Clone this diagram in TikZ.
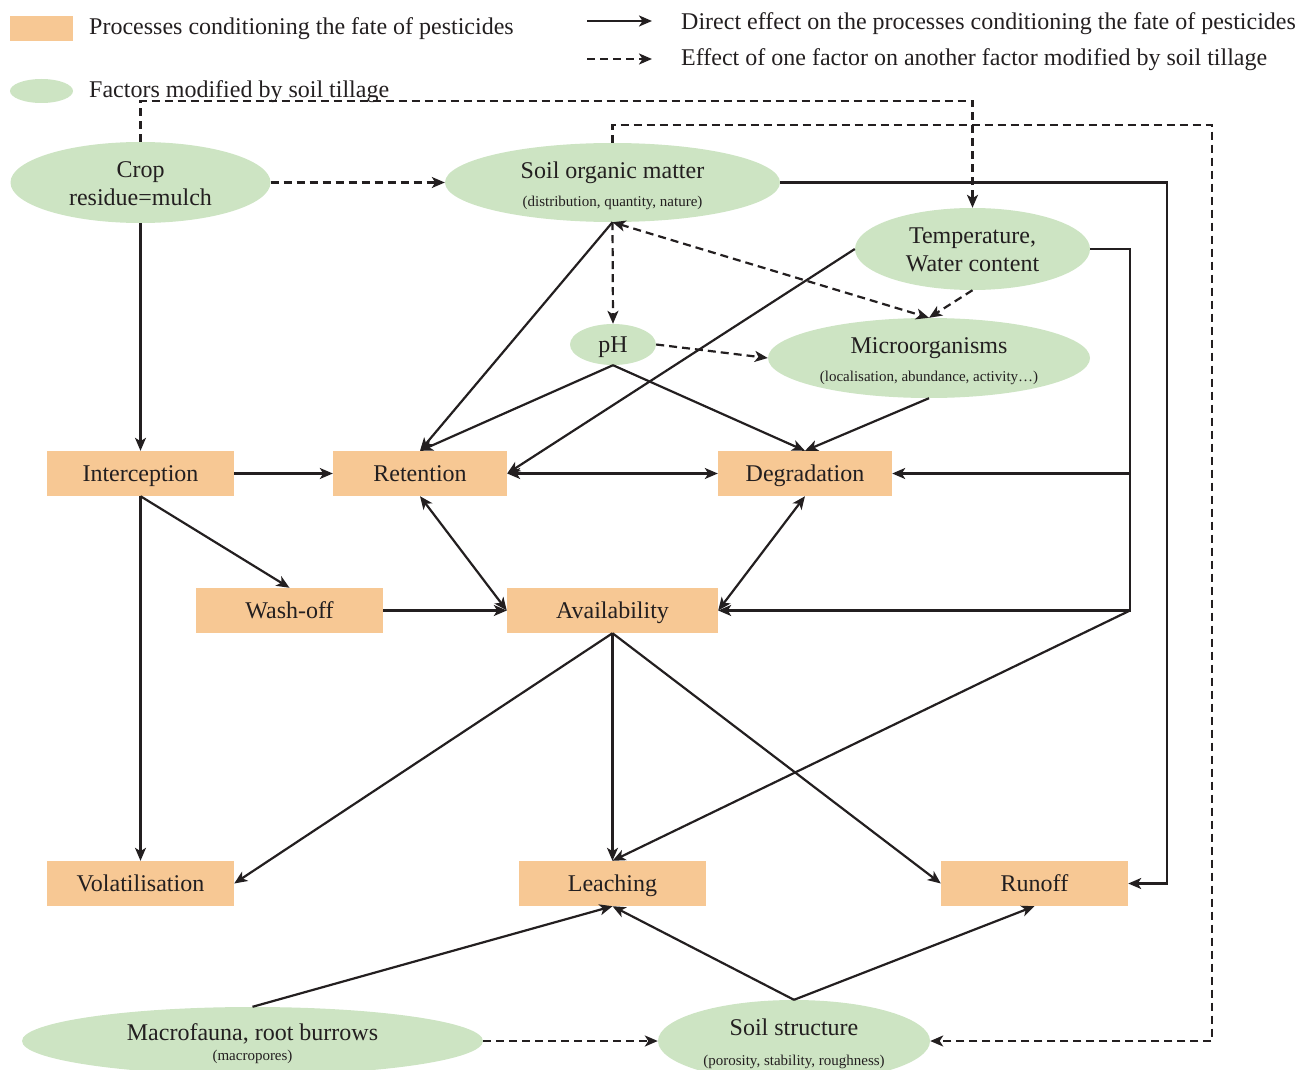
\documentclass[tikz,border=0pt]{standalone}
\usepackage{fontspec}
\setmainfont{Liberation Serif}
\usetikzlibrary{shapes.geometric,arrows.meta}
\definecolor{procfill}{HTML}{F7C894}
\definecolor{factfill}{HTML}{CDE4C3}
\definecolor{linec}{HTML}{231F20}
\begin{document}
\begin{tikzpicture}[x=1pt,y=-1pt,
  proc/.style={rectangle,fill=procfill,minimum width=187pt,minimum height=45pt,inner sep=0pt,
    font=\fontsize{24}{26}\selectfont,text=linec,text height=16pt,text depth=0.5pt},
  fact/.style={ellipse,fill=factfill,inner sep=0pt},
  big/.style={inner sep=0pt,font=\fontsize{24}{26}\selectfont,text=linec,text height=16pt,text depth=0.5pt},
  small/.style={inner sep=0pt,font=\fontsize{15}{17}\selectfont,text=linec,text height=10pt,text depth=0.3pt},
  conn/.style={draw=linec,line width=2.2pt,-{Stealth[length=13pt,width=11pt,inset=3.5pt]}},
  bconn/.style={conn,{Stealth[length=13pt,width=11pt,inset=3.5pt]}-{Stealth[length=13pt,width=11pt,inset=3.5pt]}},
  dconn/.style={conn,dash pattern=on 8pt off 5pt},
  dbconn/.style={bconn,dash pattern=on 8pt off 5pt},
]
\useasboundingbox (0,0) rectangle (1298,1070);
\clip (0,0) rectangle (1298,1070);

% legend
\node[rectangle,fill=procfill,minimum width=63pt,minimum height=25pt,inner sep=0pt] (legp) at (41.5,28.5) {};
\node[big,anchor=west] (legpt) at (89,27) {Processes conditioning the fate of pesticides};
\node[fact,minimum width=63pt,minimum height=24pt] (legf) at (41.5,91) {};
\node[big,anchor=west] (legft) at (89,90) {Factors modified by soil tillage};
\coordinate (la1) at (587,21);
\coordinate (la2) at (652,21);
\coordinate (lb1) at (587,59);
\coordinate (lb2) at (652,59);
\draw[conn] (la1) -- (la2);
\draw[dconn] (lb1) -- (lb2);
\node[big,anchor=west] (legat) at (681,22) {Direct effect on the processes conditioning the fate of pesticides};
\node[big,anchor=west] (legbt) at (681,58) {Effect of one factor on another factor modified by soil tillage};

% factors (ellipses)
\node[fact,minimum width=260pt,minimum height=81pt] (crop) at (140.5,182.5) {};
\node[big] (cropt1) at (140.5,170) {Crop};
\node[big] (cropt2) at (140.5,198) {residue=mulch};

\node[fact,minimum width=335pt,minimum height=79pt] (som) at (612.5,182.5) {};
\node[big] (somt1) at (612.5,171) {Soil organic matter};
\node[small] (somt2) at (612.5,202) {(distribution, quantity, nature)};

\node[fact,minimum width=235pt,minimum height=82pt] (temp) at (972.5,249) {};
\node[big] (tempt1) at (972.5,236) {Temperature,};
\node[big] (tempt2) at (972.5,264) {Water content};

\node[fact,minimum width=86pt,minimum height=41pt] (ph) at (613,344.5) {};
\node[big] (pht) at (613,345) {pH};

\node[fact,minimum width=322pt,minimum height=80pt] (micro) at (929,358) {};
\node[big] (microt1) at (929,346) {Microorganisms};
\node[small] (microt2) at (929,377) {(localisation, abundance, activity…)};

\node[fact,minimum width=461pt,minimum height=68pt] (macro) at (252.5,1041) {};
\node[big] (macrot1) at (252.5,1033) {Macrofauna, root burrows};
\node[small] (macrot2) at (252.5,1056) {(macropores)};

\node[fact,minimum width=272pt,minimum height=82pt] (soil) at (794,1041) {};
\node[big] (soilt1) at (794,1028) {Soil structure};
\node[small] (soilt2) at (794,1061) {(porosity, stability, roughness)};

% processes (boxes)
\node[proc] (inter) at (140.5,473.5) {Interception};
\node[proc,minimum width=174pt] (ret) at (420,473.5) {Retention};
\node[proc,minimum width=174pt] (deg) at (805,473.5) {Degradation};
\node[proc] (wash) at (289.5,610.5) {Wash-off};
\node[proc,minimum width=211pt] (avail) at (612.5,610.5) {Availability};
\node[proc] (vol) at (140.5,883.5) {Volatilisation};
\node[proc] (leach) at (612.5,883.5) {Leaching};
\node[proc] (run) at (1034.5,883.5) {Runoff};

% dashed connectors
\coordinate (ctop) at (972.5,101);
\draw[dconn] (crop.north) |- (ctop) -- (temp.north);
\coordinate (stop) at (1212,125);
\draw[dconn] (som.north) |- (stop) |- (soil.east);
\draw[dconn] (crop.east) -- (som.west);
\draw[dconn] (som.south) -- (ph.north);
\draw[dbconn] (som.south) -- (micro.north);
\draw[dconn] (temp.south) -- (micro.north);
\draw[dconn] (ph.east) -- (micro.west);
\draw[dconn] (macro.east) -- (soil.west);

% solid connectors
\coordinate (rr) at (1167,182.5);
\draw[conn] (som.east) -- (rr) |- (run.east);
\coordinate (tr) at (1130,249);
\coordinate (tb) at (1130,610.5);
\draw[conn] (temp.east) -- (tr) |- (avail.east);
\draw[conn] (tr |- deg.east) -- (deg.east);
\draw[conn] (tb) -- (leach.north);
\draw[conn] (temp.west) -- (ret.east);
\draw[conn] (crop.south) -- (inter.north);
\draw[conn] (som.south) -- (ret.north);
\draw[conn] (ph.south) -- (ret.north);
\draw[conn] (ph.south) -- (deg.north);
\draw[conn] (micro.south) -- (deg.north);
\draw[conn] (inter.east) -- (ret.west);
\draw[bconn] (ret.east) -- (deg.west);
\draw[conn] (inter.south) -- (wash.north);
\draw[conn] (inter.south) -- (vol.north);
\draw[conn] (wash.east) -- (avail.west);
\draw[bconn] (ret.south) -- (avail.west);
\draw[bconn] (deg.south) -- (avail.east);
\draw[conn] (avail.south) -- (vol.east);
\draw[conn] (avail.south) -- (leach.north);
\draw[conn] (avail.south) -- (run.west);
\draw[conn] (macro.north) -- (leach.south);
\draw[conn] (soil.north) -- (leach.south);
\draw[conn] (soil.north) -- (run.south);
\end{tikzpicture}
\end{document}
